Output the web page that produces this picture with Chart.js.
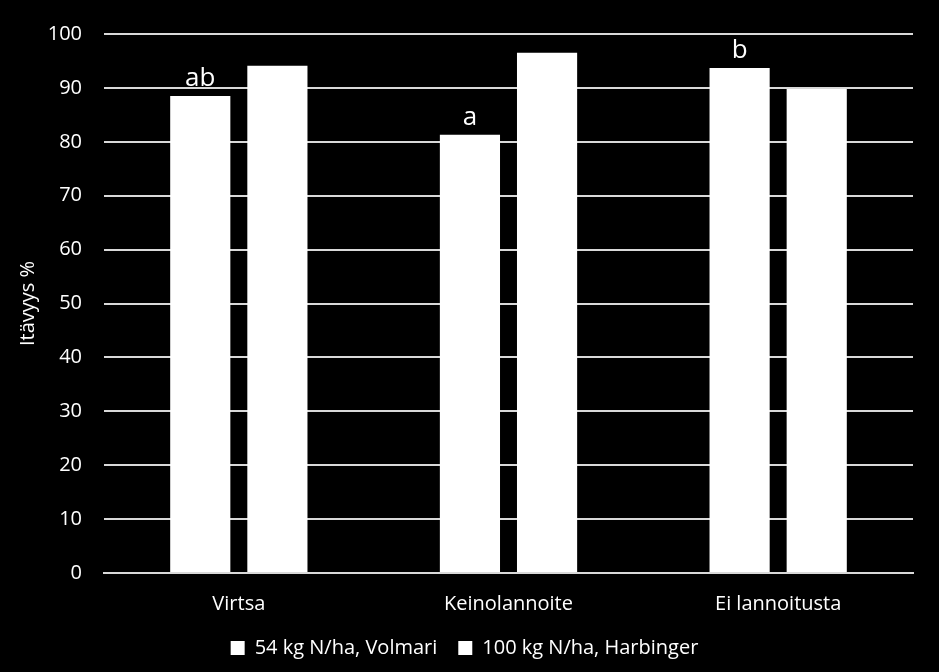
<!DOCTYPE html>
<html>
<head>
<meta charset="utf-8">
<script src="https://cdn.jsdelivr.net/npm/chart.js@4"></script>
<style>
  html, body { margin: 0; padding: 0; background: #000; }
  #wrap { width: 939px; height: 672px; }
</style>
</head>
<body>
<div id="wrap"><canvas id="chart"></canvas></div>
<script>
// Itävyys lannoituksen mukaan
const categories = ['Virtsa', 'Keinolannoite', 'Ei lannoitusta'];
const volmari = [88.5, 81.3, 93.7];
const harbinger = [94.1, 96.5, 89.8];
const letters = ['ab', 'a', 'b'];
const yTicks = [0, 10, 20, 30, 40, 50, 60, 70, 80, 90, 100];

const FONT = "'Open Sans', 'Liberation Sans', sans-serif";

// kirjaimet ensimmäisen pylvään yläpuolelle
const letterPlugin = {
  id: 'letters',
  afterDatasetsDraw(chart) {
    const ctx = chart.ctx;
    const meta = chart.getDatasetMeta(0);
    ctx.save();
    ctx.fillStyle = '#ffffff';
    ctx.font = '26px ' + FONT;
    ctx.textAlign = 'center';
    ctx.textBaseline = 'bottom';
    meta.data.forEach((bar, i) => {
      if (letters[i]) ctx.fillText(letters[i], bar.x, bar.y - 4);
    });
    ctx.restore();
  }
};

new Chart(document.getElementById('chart'), {
  type: 'bar',
  data: {
    labels: categories,
    datasets: [
      {
        label: '54 kg N/ha, Volmari',
        data: volmari,
        backgroundColor: '#ffffff',
        categoryPercentage: 0.572,
        barPercentage: 0.78
      },
      {
        label: '100 kg N/ha, Harbinger',
        data: harbinger,
        backgroundColor: '#ffffff',
        categoryPercentage: 0.572,
        barPercentage: 0.78
      }
    ]
  },
  options: {
    responsive: true,
    maintainAspectRatio: false,
    animation: false,
    layout: { padding: { left: 16, right: 26, top: 27, bottom: 4 } },
    plugins: {
      legend: {
        position: 'bottom',
        labels: {
          color: '#ffffff',
          font: { family: FONT, size: 20 },
          boxWidth: 14,
          boxHeight: 14,
          padding: 21
        }
      },
      tooltip: { enabled: false }
    },
    scales: {
      x: {
        afterFit: axis => { axis.height = 44; },
        grid: { display: false, drawTicks: false },
        border: { color: '#d9d9d9', width: 2 },
        ticks: { color: '#ffffff', font: { family: FONT, size: 20 }, padding: 19 }
      },
      y: {
        min: 0,
        max: 100,
        afterBuildTicks: axis => { axis.ticks = yTicks.map(v => ({ value: v })); },
        afterFit: axis => { axis.width = 88; },
        grid: { color: '#d9d9d9', lineWidth: 2, drawTicks: false },
        border: { display: false },
        ticks: { color: '#ffffff', font: { family: FONT, size: 20 }, padding: 22 },
        title: {
          display: true,
          text: 'Itävyys %',
          color: '#ffffff',
          font: { family: FONT, size: 20 },
          padding: { top: 0, bottom: 4 }
        }
      }
    }
  },
  plugins: [letterPlugin]
});
</script>
</body>
</html>
